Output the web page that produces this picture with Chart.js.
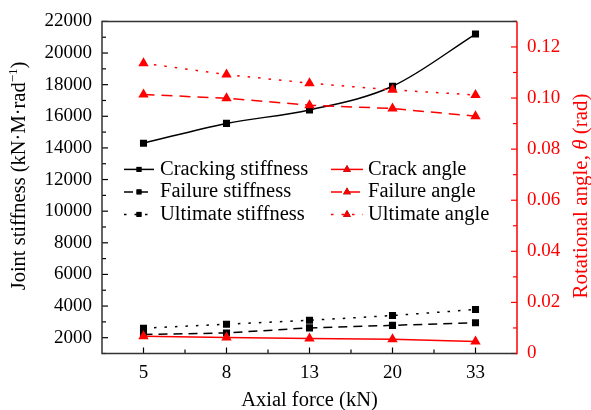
<!DOCTYPE html>
<html>
<head>
<meta charset="utf-8">
<script src="https://cdn.jsdelivr.net/npm/chart.js@4.4.1/dist/chart.umd.min.js"></script>
<style>
  html, body { margin: 0; padding: 0; background: #fff; }
  #wrap { width: 591px; height: 410px; }
</style>
</head>
<body>
<div id="wrap"><canvas id="c"></canvas></div>
<script>
// axial force levels (kN)
const axialForce = ['5', '8', '13', '20', '33'];

// joint stiffness, kN·M·rad^-1 (left axis)
const crackingStiffness = [14300, 15550, 16400, 17900, 21200];
const failureStiffness = [2200, 2300, 2620, 2780, 2950];
const ultimateStiffness = [2600, 2850, 3100, 3400, 3780];

// rotational angle, rad (right axis)
const crackAngle = [0.0068, 0.0063, 0.0059, 0.0056, 0.0047];
const failureAngle = [0.1014, 0.0999, 0.0972, 0.0959, 0.0929];
const ultimateAngle = [0.1136, 0.1092, 0.1058, 0.1032, 0.1012];

const stiffnessTicks = [2000, 4000, 6000, 8000, 10000, 12000, 14000, 16000, 18000, 20000, 22000];
const angleTicks = [0, 0.02, 0.04, 0.06, 0.08, 0.10, 0.12];

const FONT = "'Liberation Serif', 'Times New Roman', serif";
const RED = '#ff0000';
const BLACK = '#000000';
const TICK_SIZE = 19;
const TEXT_SIZE = 20.5;

const DASH = [9, 6];
const DOT = [2.5, 8];
const RED_DASH = [11, 7];

function stiffnessSet(label, data, dash, smooth) {
  return {
    label, data, yAxisID: 'y', order: 2,
    borderColor: BLACK, backgroundColor: BLACK,
    borderWidth: 1.5, borderDash: dash,
    cubicInterpolationMode: smooth ? 'monotone' : 'default', tension: 0,
    pointStyle: 'rect', pointRadius: 5, pointBorderWidth: 0
  };
}
function angleSet(label, data, dash) {
  return {
    label, data, yAxisID: 'y2', order: 1,
    borderColor: RED, backgroundColor: RED,
    borderWidth: 1.5, borderDash: dash,
    pointStyle: 'triangle', pointRadius: 6, pointBorderWidth: 0
  };
}

// frame, inward ticks, axis titles and the in-plot legend
const chartDecor = {
  id: 'chartDecor',
  afterDraw(chart) {
    const { ctx, chartArea: a, scales } = chart;
    const xs = scales.x, yl = scales.y, yr = scales.y2;
    ctx.save();

    // ticks
    ctx.lineWidth = 1.2;
    const line = (x1, y1, x2, y2, color) => {
      ctx.strokeStyle = color;
      ctx.beginPath(); ctx.moveTo(x1, y1); ctx.lineTo(x2, y2); ctx.stroke();
    };
    stiffnessTicks.forEach(v => {
      const y = yl.getPixelForValue(v);
      line(a.left, y, a.left + 6, y, BLACK);
      const ym = yl.getPixelForValue(v - 1000);
      line(a.left, ym, a.left + 4, ym, BLACK);
    });
    angleTicks.forEach(v => {
      const y = yr.getPixelForValue(v);
      line(a.right, y, a.right - 6, y, RED);
      const ym = yr.getPixelForValue(v + 0.01);
      line(a.right, ym, a.right - 4, ym, RED);
    });
    axialForce.forEach((c, i) => {
      const x = xs.getPixelForValue(i);
      line(x, a.bottom, x, a.bottom - 6, BLACK);
      if (i < axialForce.length - 1) {
        const xm = xs.getPixelForValue(i + 0.5);
        line(xm, a.bottom, xm, a.bottom - 4, BLACK);
      }
    });

    // frame
    ctx.lineWidth = 1.5;
    ctx.strokeStyle = '#333';
    ctx.beginPath();
    ctx.moveTo(a.right, a.top); ctx.lineTo(a.left, a.top);
    ctx.lineTo(a.left, a.bottom); ctx.lineTo(a.right, a.bottom);
    ctx.stroke();
    line(a.right, a.top, a.right, a.bottom + 0.75, RED);

    // legend
    const ds = chart.data.datasets;
    const rows = [a.top + 148, a.top + 170.5, a.top + 193];
    const cols = [{ x0: a.left + 22, x1: a.left + 52, tx: a.left + 58 },
                  { x0: a.left + 229, x1: a.left + 261, tx: a.left + 266 }];
    ctx.font = TEXT_SIZE + 'px ' + FONT;
    ctx.textBaseline = 'middle';
    ctx.textAlign = 'left';
    ds.forEach((d, i) => {
      const c = cols[i < 3 ? 0 : 1];
      const y = rows[i % 3];
      ctx.save();
      ctx.lineWidth = 1.5;
      ctx.strokeStyle = d.borderColor;
      ctx.setLineDash(d.borderDash || []);
      ctx.beginPath(); ctx.moveTo(c.x0, y); ctx.lineTo(c.x1, y); ctx.stroke();
      ctx.restore();
      Chart.helpers.drawPoint(ctx, {
        pointStyle: d.pointStyle, radius: d.pointStyle === 'rect' ? 3.5 : 4.5, borderWidth: 0
      }, (c.x0 + c.x1) / 2, y);
      ctx.fillStyle = d.backgroundColor;
      ctx.fill();
      ctx.fillStyle = BLACK;
      ctx.fillText(d.label, c.tx, y);
    });

    // axis titles
    ctx.font = TEXT_SIZE + 'px ' + FONT;
    ctx.textAlign = 'center';
    ctx.fillStyle = BLACK;
    ctx.fillText('Axial force (kN)', (a.left + a.right) / 2, 401);

    // left title with superscript
    ctx.save();
    ctx.translate(20, 176);
    ctx.rotate(-Math.PI / 2);
    ctx.textAlign = 'left';
    const base = 'Joint stiffness (kN·M·rad';
    const sup = '−1';
    ctx.font = TEXT_SIZE + 'px ' + FONT;
    const wb = ctx.measureText(base).width;
    ctx.font = '13px ' + FONT;
    const ws = ctx.measureText(sup).width;
    ctx.font = TEXT_SIZE + 'px ' + FONT;
    const wc = ctx.measureText(')').width;
    let px = -(wb + ws + wc) / 2;
    ctx.fillText(base, px, 0); px += wb;
    ctx.font = '13px ' + FONT;
    ctx.fillText(sup, px, -6); px += ws;
    ctx.font = TEXT_SIZE + 'px ' + FONT;
    ctx.fillText(')', px, 0);
    ctx.restore();

    // right title with italic theta
    ctx.save();
    ctx.translate(581, 196);
    ctx.rotate(-Math.PI / 2);
    ctx.textAlign = 'left';
    ctx.fillStyle = RED;
    const parts = [['Rotational angle, ', ''], ['θ', 'italic '], [' (rad)', '']];
    let total = 0;
    parts.forEach(p => { ctx.font = p[1] + '21px ' + FONT; total += ctx.measureText(p[0]).width; });
    let rx = -total / 2;
    parts.forEach(p => {
      ctx.font = p[1] + '21px ' + FONT;
      ctx.fillText(p[0], rx, 0);
      rx += ctx.measureText(p[0]).width;
    });
    ctx.restore();

    ctx.restore();
  }
};

new Chart(document.getElementById('c'), {
  type: 'line',
  data: {
    labels: axialForce,
    datasets: [
      stiffnessSet('Cracking stiffness', crackingStiffness, [], true),
      stiffnessSet('Failure stiffness', failureStiffness, DASH),
      stiffnessSet('Ultimate stiffness', ultimateStiffness, DOT),
      angleSet('Crack angle', crackAngle, []),
      angleSet('Failure angle', failureAngle, RED_DASH),
      angleSet('Ultimate angle', ultimateAngle, DOT)
    ]
  },
  options: {
    responsive: true,
    maintainAspectRatio: false,
    animation: false,
    layout: { padding: { top: 17, left: 0, right: 0, bottom: 0 } },
    plugins: { legend: { display: false }, tooltip: { enabled: false } },
    scales: {
      x: {
        offset: true,
        grid: { display: false, drawTicks: false },
        border: { display: false },
        ticks: { color: BLACK, padding: 8, font: { family: FONT, size: TICK_SIZE } },
        afterFit: s => { s.height = 56.5; }
      },
      y: {
        position: 'left',
        min: 1000, max: 22000,
        grid: { display: false, drawTicks: false },
        border: { display: false },
        ticks: {
          color: BLACK, padding: 10, font: { family: FONT, size: TICK_SIZE },
          callback: v => String(v)
        },
        afterBuildTicks: s => { s.ticks = stiffnessTicks.map(v => ({ value: v })); },
        afterFit: s => { s.width = 102; }
      },
      y2: {
        position: 'right',
        min: 0, max: 0.13,
        grid: { display: false, drawTicks: false },
        border: { display: false },
        ticks: {
          color: RED, padding: 10, font: { family: FONT, size: TICK_SIZE },
          callback: v => v === 0 ? '0' : v.toFixed(2)
        },
        afterBuildTicks: s => { s.ticks = angleTicks.map(v => ({ value: v })); },
        afterFit: s => { s.width = 74; }
      }
    }
  },
  plugins: [chartDecor]
});
</script>
</body>
</html>
